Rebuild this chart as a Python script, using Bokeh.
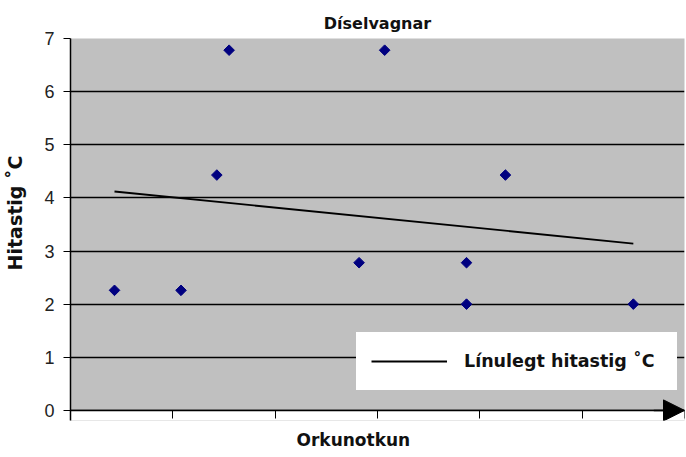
import math
from bokeh.plotting import figure
from bokeh.models import (Range1d, FixedTicker, Legend, LegendItem, Arrow, NormalHead,
                          ColumnDataSource, Grid, BoxAnnotation, Title)
from bokeh.embed import file_html
from bokeh.resources import INLINE

# Data
energy = [0.43, 1.08, 1.43, 1.55, 2.82, 3.07, 3.87, 3.87, 4.25, 5.50]
temperature = [2.26, 2.26, 4.43, 6.78, 2.78, 6.78, 2.78, 2.0, 4.43, 2.0]
trend_x = [0.43, 5.50]
trend_y = [4.12, 3.14]
y_ticks = [0, 1, 2, 3, 4, 5, 6, 7]
x_ticks = [0, 1, 2, 3, 4, 5, 6]

X_MIN, X_MAX = 0, 6
Y_MIN, Y_MAX = 0, 7
Y_PAD = 0.19  # room below the x axis for the arrow head and ticks

NB = "\u00a0"

p = figure(width=686, height=457, output_backend="svg", toolbar_location=None,
           x_range=Range1d(X_MIN, X_MAX), y_range=Range1d(Y_MIN - Y_PAD, Y_MAX),
           min_border_left=70, min_border_right=2, min_border_top=38, min_border_bottom=37)

p.title.text = "Díselvagnar"
p.title.align = "center"
p.title.text_font = "DejaVu Sans"
p.title.text_font_size = "16px"
p.title.text_font_style = "bold"
p.title.text_color = "#111111"
p.title.standoff = 12

p.background_fill_color = "#C0C0C0"
p.border_fill_color = "white"
p.outline_line_color = None

# white area below the x axis line
p.add_layout(BoxAnnotation(top=Y_MIN, fill_color="white", fill_alpha=1,
                           line_color=None, level="underlay"))

p.xgrid.grid_line_color = None
p.ygrid.grid_line_color = "black"
p.ygrid.grid_line_width = 1.6
p.ygrid.ticker = FixedTicker(ticks=y_ticks[:-1])
p.add_layout(Grid(dimension=1, ticker=FixedTicker(ticks=[Y_MAX]),
                  grid_line_color="#808080", grid_line_width=1.2))
p.add_layout(Grid(dimension=0, ticker=FixedTicker(ticks=[X_MAX]), bounds=(Y_MIN, Y_MAX),
                  grid_line_color="#808080", grid_line_width=1.2))

p.yaxis.ticker = FixedTicker(ticks=y_ticks)
p.yaxis.minor_tick_line_color = None
p.yaxis.major_tick_out = 7
p.yaxis.major_tick_in = 0
p.yaxis.axis_line_color = "black"
p.yaxis.axis_line_width = 1.5
p.yaxis.major_label_text_font = "Liberation Sans"
p.yaxis.major_label_text_font_size = "18px"
p.yaxis.major_label_text_color = "#222222"
p.yaxis.major_label_standoff = 9
p.yaxis.axis_label = NB * 6 + "Hitastig  ˚C"
p.yaxis.axis_label_text_font = "DejaVu Sans"
p.yaxis.axis_label_text_font_style = "bold"
p.yaxis.axis_label_text_font_size = "19px"
p.yaxis.axis_label_text_color = "#111111"
p.yaxis.axis_label_standoff = 15

p.xaxis.fixed_location = Y_MIN
p.xaxis.ticker = FixedTicker(ticks=x_ticks)
p.xaxis.minor_tick_line_color = None
p.xaxis.major_tick_out = 8
p.xaxis.major_tick_in = 0
p.xaxis.axis_line_color = "black"
p.xaxis.axis_line_width = 1.5
p.xaxis.major_label_overrides = {t: "" for t in x_ticks}
p.xaxis.major_label_text_font_size = "0px"
p.xaxis.major_label_standoff = 0

p.add_layout(Title(text="Orkunotkun", align="left", offset=226,
                   text_font="DejaVu Sans", text_font_style="bold",
                   text_font_size="17px", text_color="#111111", standoff=14), "below")

src = ColumnDataSource(dict(x=energy, y=temperature))
p.scatter("x", "y", source=src, marker="square", angle=math.pi / 4, size=7.5,
          fill_color="#000080", line_color="#000080")

trend = p.line(trend_x, trend_y, line_color="black", line_width=1.8)

p.add_layout(Arrow(end=NormalHead(size=21, fill_color="black", line_color="black", line_width=1),
                   x_start=X_MAX - 0.3, y_start=Y_MIN, x_end=X_MAX, y_end=Y_MIN,
                   line_color="black", line_width=1.5))

legend = Legend(items=[LegendItem(label="Línulegt hitastig ˚C", renderers=[trend])],
                location=(286, 30))
legend.background_fill_color = "white"
legend.background_fill_alpha = 1
legend.border_line_color = "white"
legend.border_line_width = 1
legend.padding = 14
legend.margin = 0
legend.glyph_width = 76
legend.glyph_height = 28
legend.label_standoff = 17
legend.label_width = 198
legend.label_text_font = "DejaVu Sans"
legend.label_text_font_size = "17.5px"
legend.label_text_font_style = "bold"
legend.label_text_color = "#111111"
p.add_layout(legend)

open("out.html", "w").write(file_html(p, INLINE))
